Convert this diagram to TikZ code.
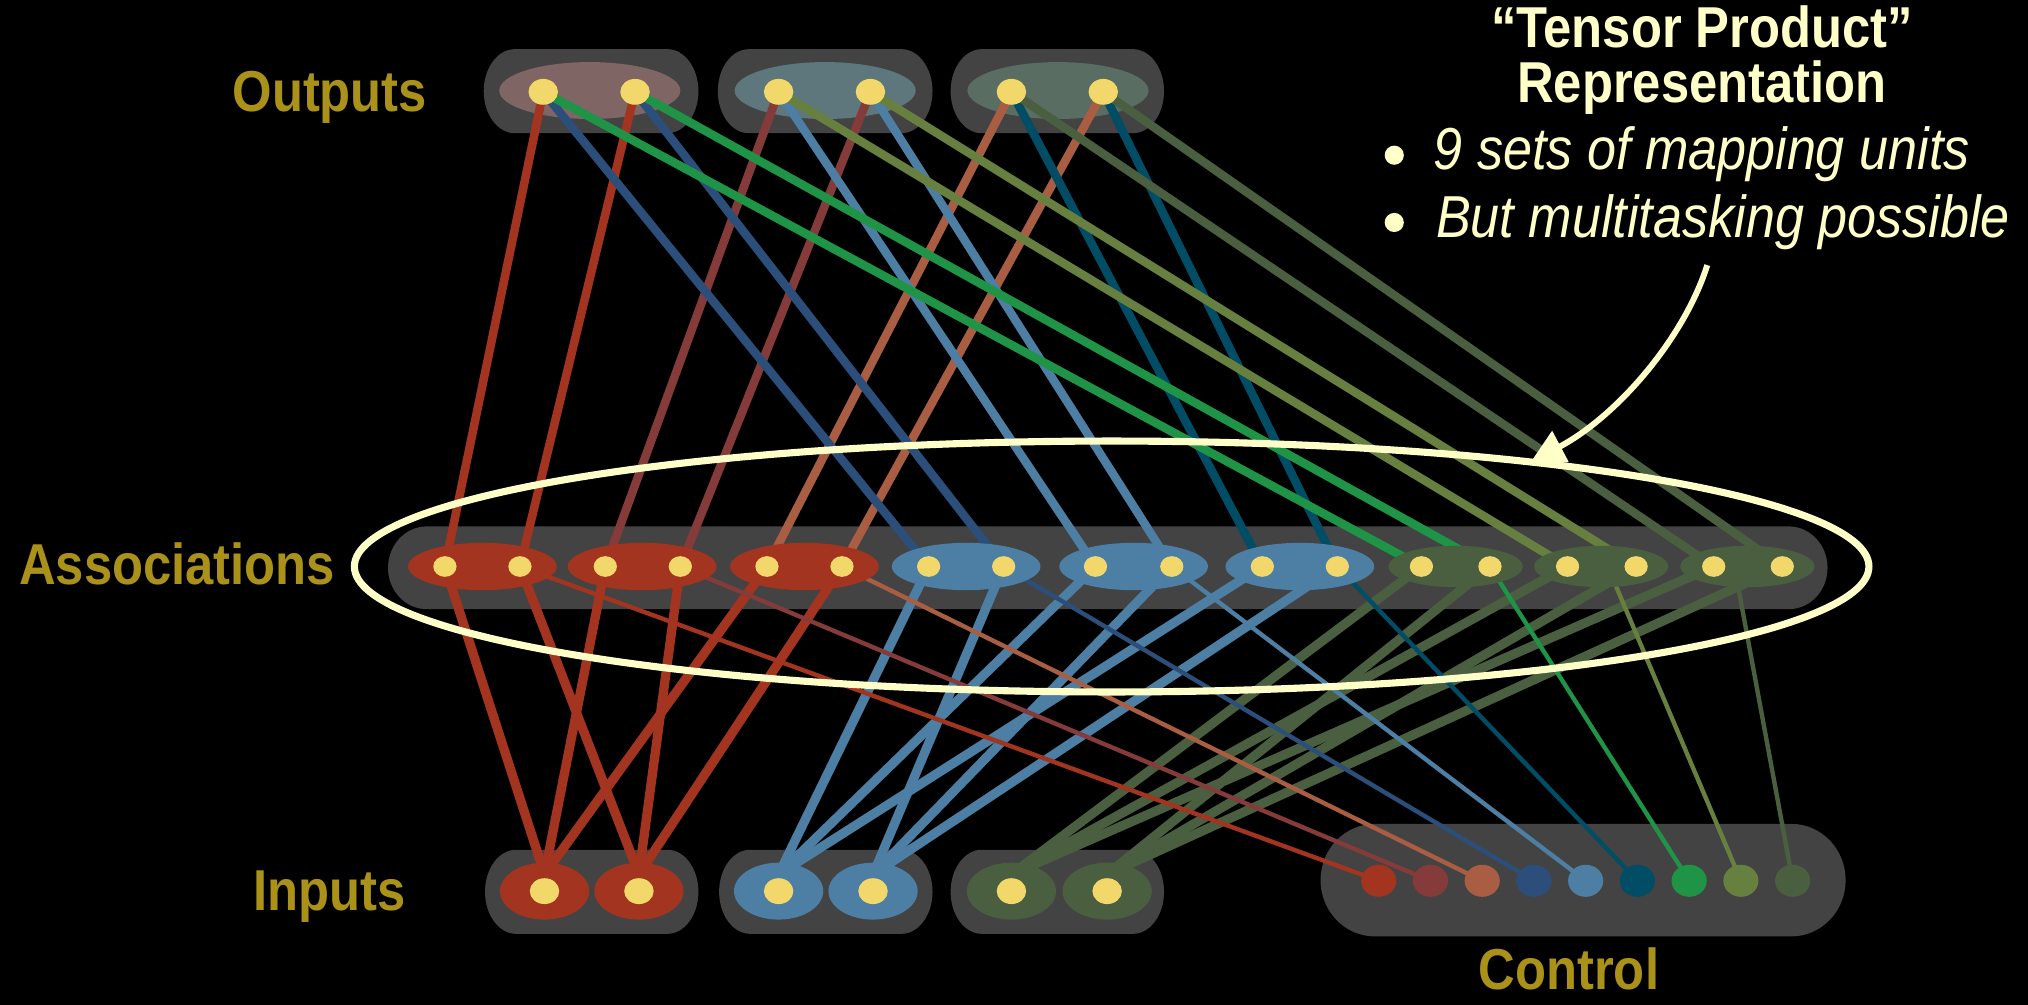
\documentclass[tikz,border=0pt]{standalone}
\usepackage{fontspec}
\setmainfont{Liberation Sans}[FakeStretch=0.88]
\usetikzlibrary{shapes.geometric,arrows.meta,calc}

\definecolor{panel}{HTML}{434343}
\definecolor{gold}{HTML}{AA9119}
\definecolor{cream}{HTML}{FFFFC8}
\definecolor{unitcol}{HTML}{F2D76A}
\definecolor{cRed}{HTML}{A3341F}
\definecolor{cBrown}{HTML}{843B3A}
\definecolor{cTerra}{HTML}{A95E43}
\definecolor{cNavy}{HTML}{2B4F7A}
\definecolor{cSteel}{HTML}{4D7EA3}
\definecolor{cTeal}{HTML}{014D66}
\definecolor{cGreen}{HTML}{1F9446}
\definecolor{cOlive}{HTML}{67803F}
\definecolor{cMoss}{HTML}{4A5E40}
\definecolor{outA}{HTML}{7F6664}
\definecolor{outB}{HTML}{5E777C}
\definecolor{outC}{HTML}{5A6D62}

\pgfdeclarelayer{bg}
\pgfdeclarelayer{wires}
\pgfdeclarelayer{fg}
\pgfsetlayers{bg,wires,main,fg}

% rounded panel with elliptical ends: x0, y0, x1, y1, end radius
\newcommand{\pill}[5]{%
  \fill[panel] (#1+#5,#2) -- (#3-#5,#2)
    arc[start angle=-90,end angle=90,x radius=#5,y radius={(#4-#2)/2}]
    -- (#1+#5,#4)
    arc[start angle=90,end angle=270,x radius=#5,y radius={(#4-#2)/2}]
    -- cycle;}

\begin{document}
\begin{tikzpicture}[x=0.5pt,y=-0.5pt,
  blob/.style={ellipse, inner sep=0pt, outer sep=0pt, draw=none},
  unitdot/.style={blob, fill=unitcol, minimum width=11.4pt, minimum height=10pt},
  adot/.style={blob, fill=unitcol, minimum width=9pt, minimum height=8pt},
  assocW/.style={blob, minimum width=57.5pt, minimum height=18.3pt},
  assocN/.style={blob, minimum width=52pt, minimum height=16pt},
  inblob/.style={blob, minimum width=34.5pt, minimum height=22pt},
  outblob/.style={blob, minimum width=70pt, minimum height=22pt},
  ctrldot/.style={blob, minimum width=13.6pt, minimum height=12.4pt},
  layerlab/.style={text=gold, font=\bfseries\fontsize{22.3}{26}\selectfont, anchor=base, inner sep=0pt},
  wireO/.style={line width=3.3pt},
  wireI/.style={line width=3.6pt},
  wireC/.style={line width=1.7pt},
]

% ---- panels and output group fields
\begin{pgfonlayer}{bg}
  \fill[black] (0,0) rectangle (1568,777);
  \pill{374}{38}{540}{103}{24}
  \pill{555}{38}{721}{103}{24}
  \pill{735}{38}{900}{103}{24}
  \pill{300}{407}{1413}{471}{30}
  \pill{375}{657}{540}{722}{24}
  \pill{556}{657}{721}{722}{24}
  \pill{735}{657}{900}{722}{24}
  \pill{1021}{637}{1427}{724}{42}
  \node[outblob, fill=outA] (OG1) at (456,70) {};
  \node[outblob, fill=outB] (OG2) at (638,70) {};
  \node[outblob, fill=outC] (OG3) at (818,70) {};
\end{pgfonlayer}
\useasboundingbox (0,0) rectangle (1568,777);

% ---- output units
\foreach \og/\xa/\xb in {1/420/491, 2/602/673, 3/782/853} {
  \node[unitdot] (O\og-a) at (\xa,71) {};
  \node[unitdot] (O\og-b) at (\xb,71) {};
}

% ---- input units
\foreach \ig/\xa/\xb/\fc in {1/421/494/cRed, 2/602/675/cSteel, 3/782/856/cMoss} {
  \node[inblob, fill=\fc] (IG\ig-a) at (\xa,689) {};
  \node[inblob, fill=\fc] (IG\ig-b) at (\xb,689) {};
  \node[unitdot] (I\ig-a) at (\xa,689) {};
  \node[unitdot] (I\ig-b) at (\xb,689) {};
  \coordinate (I\ig-a-in) at (\xa,676);
  \coordinate (I\ig-b-in) at (\xb,676);
}

% ---- association units
\foreach \nm/\cx/\fc/\sty/\lx/\rx/\sx in {
    R1/373/cRed/assocW/344/402/402,
    R2/496.5/cRed/assocW/468/526/526,
    R3/622/cRed/assocW/593/651/651,
    B1/747/cSteel/assocW/718/776/776,
    B2/876.5/cSteel/assocW/847/906/906,
    B3/1005/cSteel/assocW/976/1034/1034,
    G1/1125.5/cMoss/assocN/1099/1152/1152,
    G2/1238/cMoss/assocN/1212/1265/1243,
    G3/1351/cMoss/assocN/1325/1378/1341} {
  \node[\sty, fill=\fc] (\nm) at (\cx,438) {};
  \node[adot] (\nm-a) at (\lx,438) {};
  \node[adot] (\nm-b) at (\rx,438) {};
  \coordinate (\nm-s) at (\sx,438);
}

% ---- control units
\foreach \ck/\fc in {1/cRed, 2/cBrown, 3/cTerra, 4/cNavy, 5/cSteel, 6/cTeal, 7/cGreen, 8/cOlive, 9/cMoss} {
  \node[ctrldot, fill=\fc] (C\ck) at ({1026+40*\ck},681) {};
}

% ---- connections
\begin{pgfonlayer}{wires}
  \foreach \nm/\ig/\icol in {R1/1/cRed, R2/1/cRed, R3/1/cRed,
                             B1/2/cSteel, B2/2/cSteel, B3/2/cSteel,
                             G1/3/cMoss, G2/3/cMoss, G3/3/cMoss} {
    \draw[wireI, \icol] (\nm-a.center) -- (I\ig-a-in);
    \draw[wireI, \icol] (\nm-b.center) -- (I\ig-b-in);
  }
  \foreach \nm/\ck/\wc in {R1/1/cRed, R2/2/cBrown, R3/3/cTerra,
                           B1/4/cNavy, B2/5/cSteel, B3/6/cTeal,
                           G1/7/cGreen, G2/8/cOlive, G3/9/cMoss} {
    \draw[wireC, \wc] (\nm-s) -- (C\ck.center);
  }
  \foreach \nm/\og/\wc in {R1/1/cRed, R2/2/cBrown, R3/3/cTerra,
                           B1/1/cNavy, B2/2/cSteel, B3/3/cTeal,
                           G1/1/cGreen, G2/2/cOlive, G3/3/cMoss} {
    \draw[wireO, \wc] (O\og-a.center) -- (\nm-a.center);
    \draw[wireO, \wc] (O\og-b.center) -- (\nm-b.center);
  }
\end{pgfonlayer}

% ---- layer labels
\node[layerlab] (lblOut)   at (255,86)  {Outputs};
\node[layerlab] (lblAssoc) at (137,452) {Associations};
\node[layerlab] (lblIn)    at (255,704) {Inputs};
\node[layerlab] (lblCtrl)  at (1213,765) {Control};

% ---- heading and notes
\node[text=cream, font=\bfseries\fontsize{22.3}{26}\selectfont, anchor=base, inner sep=0pt] (head1) at (1316,37) {“Tensor Product”};
\node[text=cream, font=\bfseries\fontsize{22.3}{26}\selectfont, anchor=base, inner sep=0pt] (head2) at (1316,79) {Representation};
\fill[cream] (1078,120) circle[radius=3.7pt];
\fill[cream] (1078,172) circle[radius=3.7pt];
\node[text=cream, font=\itshape\fontsize{22.9}{27}\selectfont, anchor=base west, inner sep=0pt] (note1) at (1108,131) {9 sets of mapping units};
\node[text=cream, font=\itshape\fontsize{22.9}{27}\selectfont, anchor=base west, inner sep=0pt] (note2) at (1110,184) {But multitasking possible};

% ---- highlighted association layer and pointer
\begin{pgfonlayer}{fg}
  \node[blob, draw=cream, line width=2.75pt, minimum width=585.5pt, minimum height=97pt] (focus) at (859.5,438) {};
  \coordinate (tail) at (1320,205);
  \draw[cream, line width=2.3pt, -{Triangle[length=13pt,width=13pt]}]
    (tail) .. controls (1302,262) and (1250,322) .. (focus.14);
\end{pgfonlayer}
\end{tikzpicture}
\end{document}
